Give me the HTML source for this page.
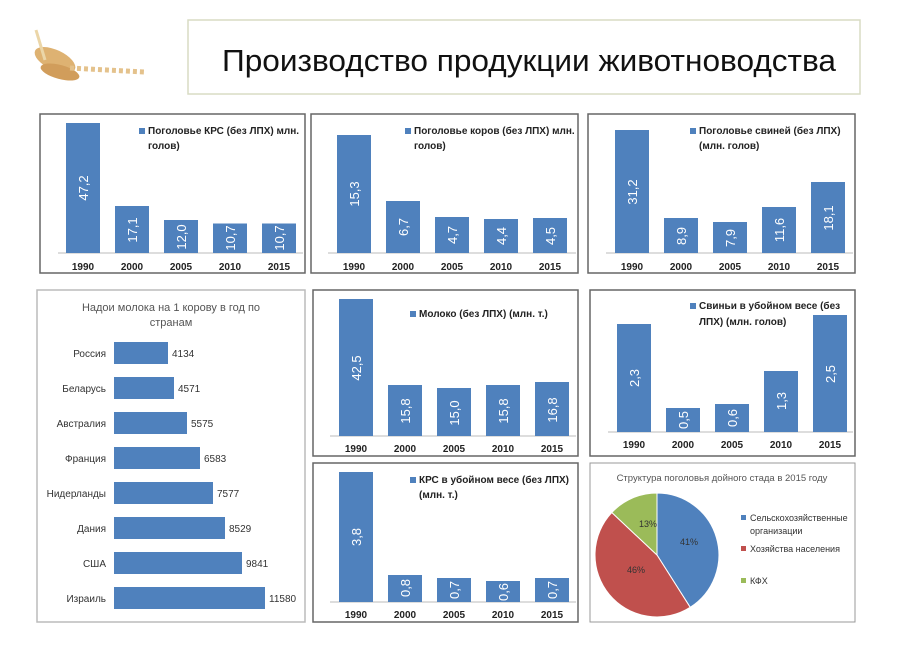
<!DOCTYPE html>
<html><head><meta charset="utf-8"><style>
body{margin:0;background:#fff;}
svg{display:block;font-family:"Liberation Sans",sans-serif;}
.yr{font-size:10px;fill:#222;text-anchor:middle;font-weight:bold}
.v{font-size:13px;fill:#fff;text-anchor:middle}
.lg{font-size:10px;fill:#222;font-weight:bold}
.b{fill:#4f81bd}
.pn{fill:#fff;stroke:#666;stroke-width:1.5}
</style></head><body>
<svg width="900" height="662" viewBox="0 0 900 662">
<g opacity="0.85">
<ellipse cx="55" cy="60" rx="22" ry="10" fill="#d9a55a" transform="rotate(25 55 60)"/>
<ellipse cx="60" cy="72" rx="20" ry="7" fill="#c98d3f" transform="rotate(15 60 72)"/>
<path d="M70 68 L145 72" stroke="#e0b878" stroke-width="5" stroke-dasharray="4 3"/>
<path d="M36 30 L45 60" stroke="#e8cf9a" stroke-width="3"/>
</g>
<rect x="188" y="20" width="672" height="74" fill="#fff" stroke="#d8dcc4" stroke-width="1.5"/>
<text x="222" y="71" font-size="31" fill="#111" textLength="614" lengthAdjust="spacingAndGlyphs">Производство продукции животноводства</text>

<rect class="pn" x="40" y="114" width="265" height="159"/>
<line x1="58" y1="253" x2="303" y2="253" stroke="#bbb"/>
<rect class="b" x="66" y="123" width="34" height="130"/>
<rect class="b" x="115" y="206" width="34" height="47"/>
<rect class="b" x="164" y="220" width="34" height="33"/>
<rect class="b" x="213" y="223.5" width="34" height="29.5"/>
<rect class="b" x="262" y="223.5" width="34" height="29.5"/>
<g class="v"><text transform="translate(88,188) rotate(-90)">47,2</text><text transform="translate(137,230) rotate(-90)">17,1</text><text transform="translate(186,237) rotate(-90)">12,0</text><text transform="translate(235,238) rotate(-90)">10,7</text><text transform="translate(284,238) rotate(-90)">10,7</text></g>
<g class="yr"><text x="83" y="270">1990</text><text x="132" y="270">2000</text><text x="181" y="270">2005</text><text x="230" y="270">2010</text><text x="279" y="270">2015</text></g>
<rect class="b" x="139" y="128" width="6" height="6"/>
<text class="lg" x="148" y="134">Поголовье КРС (без ЛПХ) млн.</text><text class="lg" x="148" y="149">голов)</text>

<rect class="pn" x="311" y="114" width="267" height="159"/>
<line x1="328" y1="253" x2="576" y2="253" stroke="#bbb"/>
<rect class="b" x="337" y="135" width="34" height="118"/>
<rect class="b" x="386" y="201" width="34" height="52"/>
<rect class="b" x="435" y="217" width="34" height="36"/>
<rect class="b" x="484" y="219" width="34" height="34"/>
<rect class="b" x="533" y="218" width="34" height="35"/>
<g class="v"><text transform="translate(359,194) rotate(-90)">15,3</text><text transform="translate(408,227) rotate(-90)">6,7</text><text transform="translate(457,235) rotate(-90)">4,7</text><text transform="translate(506,236) rotate(-90)">4,4</text><text transform="translate(555,236) rotate(-90)">4,5</text></g>
<g class="yr"><text x="354" y="270">1990</text><text x="403" y="270">2000</text><text x="452" y="270">2005</text><text x="501" y="270">2010</text><text x="550" y="270">2015</text></g>
<rect class="b" x="405" y="128" width="6" height="6"/>
<text class="lg" x="414" y="134">Поголовье коров (без ЛПХ) млн.</text><text class="lg" x="414" y="149">голов)</text>

<rect class="pn" x="588" y="114" width="267" height="159"/>
<line x1="606" y1="253" x2="853" y2="253" stroke="#bbb"/>
<rect class="b" x="615" y="130" width="34" height="123"/>
<rect class="b" x="664" y="218" width="34" height="35"/>
<rect class="b" x="713" y="222" width="34" height="31"/>
<rect class="b" x="762" y="207" width="34" height="46"/>
<rect class="b" x="811" y="182" width="34" height="71"/>
<g class="v"><text transform="translate(637,192) rotate(-90)">31,2</text><text transform="translate(686,236) rotate(-90)">8,9</text><text transform="translate(735,238) rotate(-90)">7,9</text><text transform="translate(784,230) rotate(-90)">11,6</text><text transform="translate(833,218) rotate(-90)">18,1</text></g>
<g class="yr"><text x="632" y="270">1990</text><text x="681" y="270">2000</text><text x="730" y="270">2005</text><text x="779" y="270">2010</text><text x="828" y="270">2015</text></g>
<rect class="b" x="690" y="128" width="6" height="6"/>
<text class="lg" x="699" y="134">Поголовье свиней (без ЛПХ)</text><text class="lg" x="699" y="149">(млн. голов)</text>

<rect x="37" y="290" width="268" height="332" fill="#fff" stroke="#bbb" stroke-width="1.5"/>
<text x="171" y="311" font-size="11" fill="#555" text-anchor="middle">Надои молока на 1 корову в год по</text>
<text x="171" y="326" font-size="11" fill="#555" text-anchor="middle">странам</text>
<g font-size="10" fill="#333">
<g text-anchor="end"><text x="106" y="357">Россия</text><text x="106" y="392">Беларусь</text><text x="106" y="427">Австралия</text><text x="106" y="462">Франция</text><text x="106" y="497">Нидерланды</text><text x="106" y="532">Дания</text><text x="106" y="567">США</text><text x="106" y="602">Израиль</text></g>
<rect class="b" x="114" y="342" width="54" height="22"/><text x="172" y="357">4134</text>
<rect class="b" x="114" y="377" width="60" height="22"/><text x="178" y="392">4571</text>
<rect class="b" x="114" y="412" width="73" height="22"/><text x="191" y="427">5575</text>
<rect class="b" x="114" y="447" width="86" height="22"/><text x="204" y="462">6583</text>
<rect class="b" x="114" y="482" width="99" height="22"/><text x="217" y="497">7577</text>
<rect class="b" x="114" y="517" width="111" height="22"/><text x="229" y="532">8529</text>
<rect class="b" x="114" y="552" width="128" height="22"/><text x="246" y="567">9841</text>
<rect class="b" x="114" y="587" width="151" height="22"/><text x="269" y="602">11580</text>
</g>

<rect class="pn" x="313" y="290" width="265" height="166"/>
<line x1="330" y1="436" x2="576" y2="436" stroke="#bbb"/>
<rect class="b" x="339" y="299" width="34" height="137"/>
<rect class="b" x="388" y="385" width="34" height="51"/>
<rect class="b" x="437" y="388" width="34" height="48"/>
<rect class="b" x="486" y="385" width="34" height="51"/>
<rect class="b" x="535" y="382" width="34" height="54"/>
<g class="v"><text transform="translate(361,368) rotate(-90)">42,5</text><text transform="translate(410,411) rotate(-90)">15,8</text><text transform="translate(459,413) rotate(-90)">15,0</text><text transform="translate(508,411) rotate(-90)">15,8</text><text transform="translate(557,410) rotate(-90)">16,8</text></g>
<g class="yr"><text x="356" y="452">1990</text><text x="405" y="452">2000</text><text x="454" y="452">2005</text><text x="503" y="452">2010</text><text x="552" y="452">2015</text></g>
<rect class="b" x="410" y="311" width="6" height="6"/>
<text class="lg" x="419" y="317">Молоко (без ЛПХ) (млн. т.)</text>

<rect class="pn" x="590" y="290" width="265" height="166"/>
<line x1="608" y1="432" x2="853" y2="432" stroke="#bbb"/>
<rect class="b" x="617" y="324" width="34" height="108"/>
<rect class="b" x="666" y="408" width="34" height="24"/>
<rect class="b" x="715" y="404" width="34" height="28"/>
<rect class="b" x="764" y="371" width="34" height="61"/>
<rect class="b" x="813" y="315" width="34" height="117"/>
<g class="v"><text transform="translate(639,378) rotate(-90)">2,3</text><text transform="translate(688,420) rotate(-90)">0,5</text><text transform="translate(737,418) rotate(-90)">0,6</text><text transform="translate(786,401) rotate(-90)">1,3</text><text transform="translate(835,374) rotate(-90)">2,5</text></g>
<g class="yr"><text x="634" y="448">1990</text><text x="683" y="448">2000</text><text x="732" y="448">2005</text><text x="781" y="448">2010</text><text x="830" y="448">2015</text></g>
<rect class="b" x="690" y="303" width="6" height="6"/>
<text class="lg" x="699" y="309">Свиньи в убойном весе (без</text><text class="lg" x="699" y="325">ЛПХ) (млн. голов)</text>

<rect class="pn" x="313" y="463" width="265" height="159"/>
<line x1="330" y1="602" x2="576" y2="602" stroke="#bbb"/>
<rect class="b" x="339" y="472" width="34" height="130"/>
<rect class="b" x="388" y="575" width="34" height="27"/>
<rect class="b" x="437" y="578" width="34" height="24"/>
<rect class="b" x="486" y="581" width="34" height="21"/>
<rect class="b" x="535" y="578" width="34" height="24"/>
<g class="v"><text transform="translate(361,537) rotate(-90)">3,8</text><text transform="translate(410,588) rotate(-90)">0,8</text><text transform="translate(459,590) rotate(-90)">0,7</text><text transform="translate(508,592) rotate(-90)">0,6</text><text transform="translate(557,590) rotate(-90)">0,7</text></g>
<g class="yr"><text x="356" y="618">1990</text><text x="405" y="618">2000</text><text x="454" y="618">2005</text><text x="503" y="618">2010</text><text x="552" y="618">2015</text></g>
<rect class="b" x="410" y="477" width="6" height="6"/>
<text class="lg" x="419" y="483">КРС в убойном весе (без ЛПХ)</text><text class="lg" x="419" y="498">(млн. т.)</text>

<rect x="590" y="463" width="265" height="159" fill="#fff" stroke="#999" stroke-width="1"/>
<text x="722" y="481" font-size="9.5" fill="#555" text-anchor="middle">Структура поголовья дойного стада в 2015 году</text>
<path d="M657 555 L657 493 A62 62 0 0 1 690.2 607.3 Z" fill="#4f81bd" stroke="#fff"/>
<path d="M657 555 L690.2 607.3 A62 62 0 0 1 611.8 512.5 Z" fill="#c0504d" stroke="#fff"/>
<path d="M657 555 L611.8 512.5 A62 62 0 0 1 657 493 Z" fill="#9bbb59" stroke="#fff"/>
<g font-size="9" fill="#333" text-anchor="middle"><text x="689" y="545">41%</text><text x="636" y="573">46%</text><text x="648" y="527">13%</text></g>
<g font-size="9" fill="#333">
<rect x="741" y="515" width="5" height="5" fill="#4f81bd"/><text x="750" y="521">Сельскохозяйственные</text><text x="750" y="534">организации</text>
<rect x="741" y="546" width="5" height="5" fill="#c0504d"/><text x="750" y="552">Хозяйства населения</text>
<rect x="741" y="578" width="5" height="5" fill="#9bbb59"/><text x="750" y="584">КФХ</text>
</g>
</svg>
</body></html>
